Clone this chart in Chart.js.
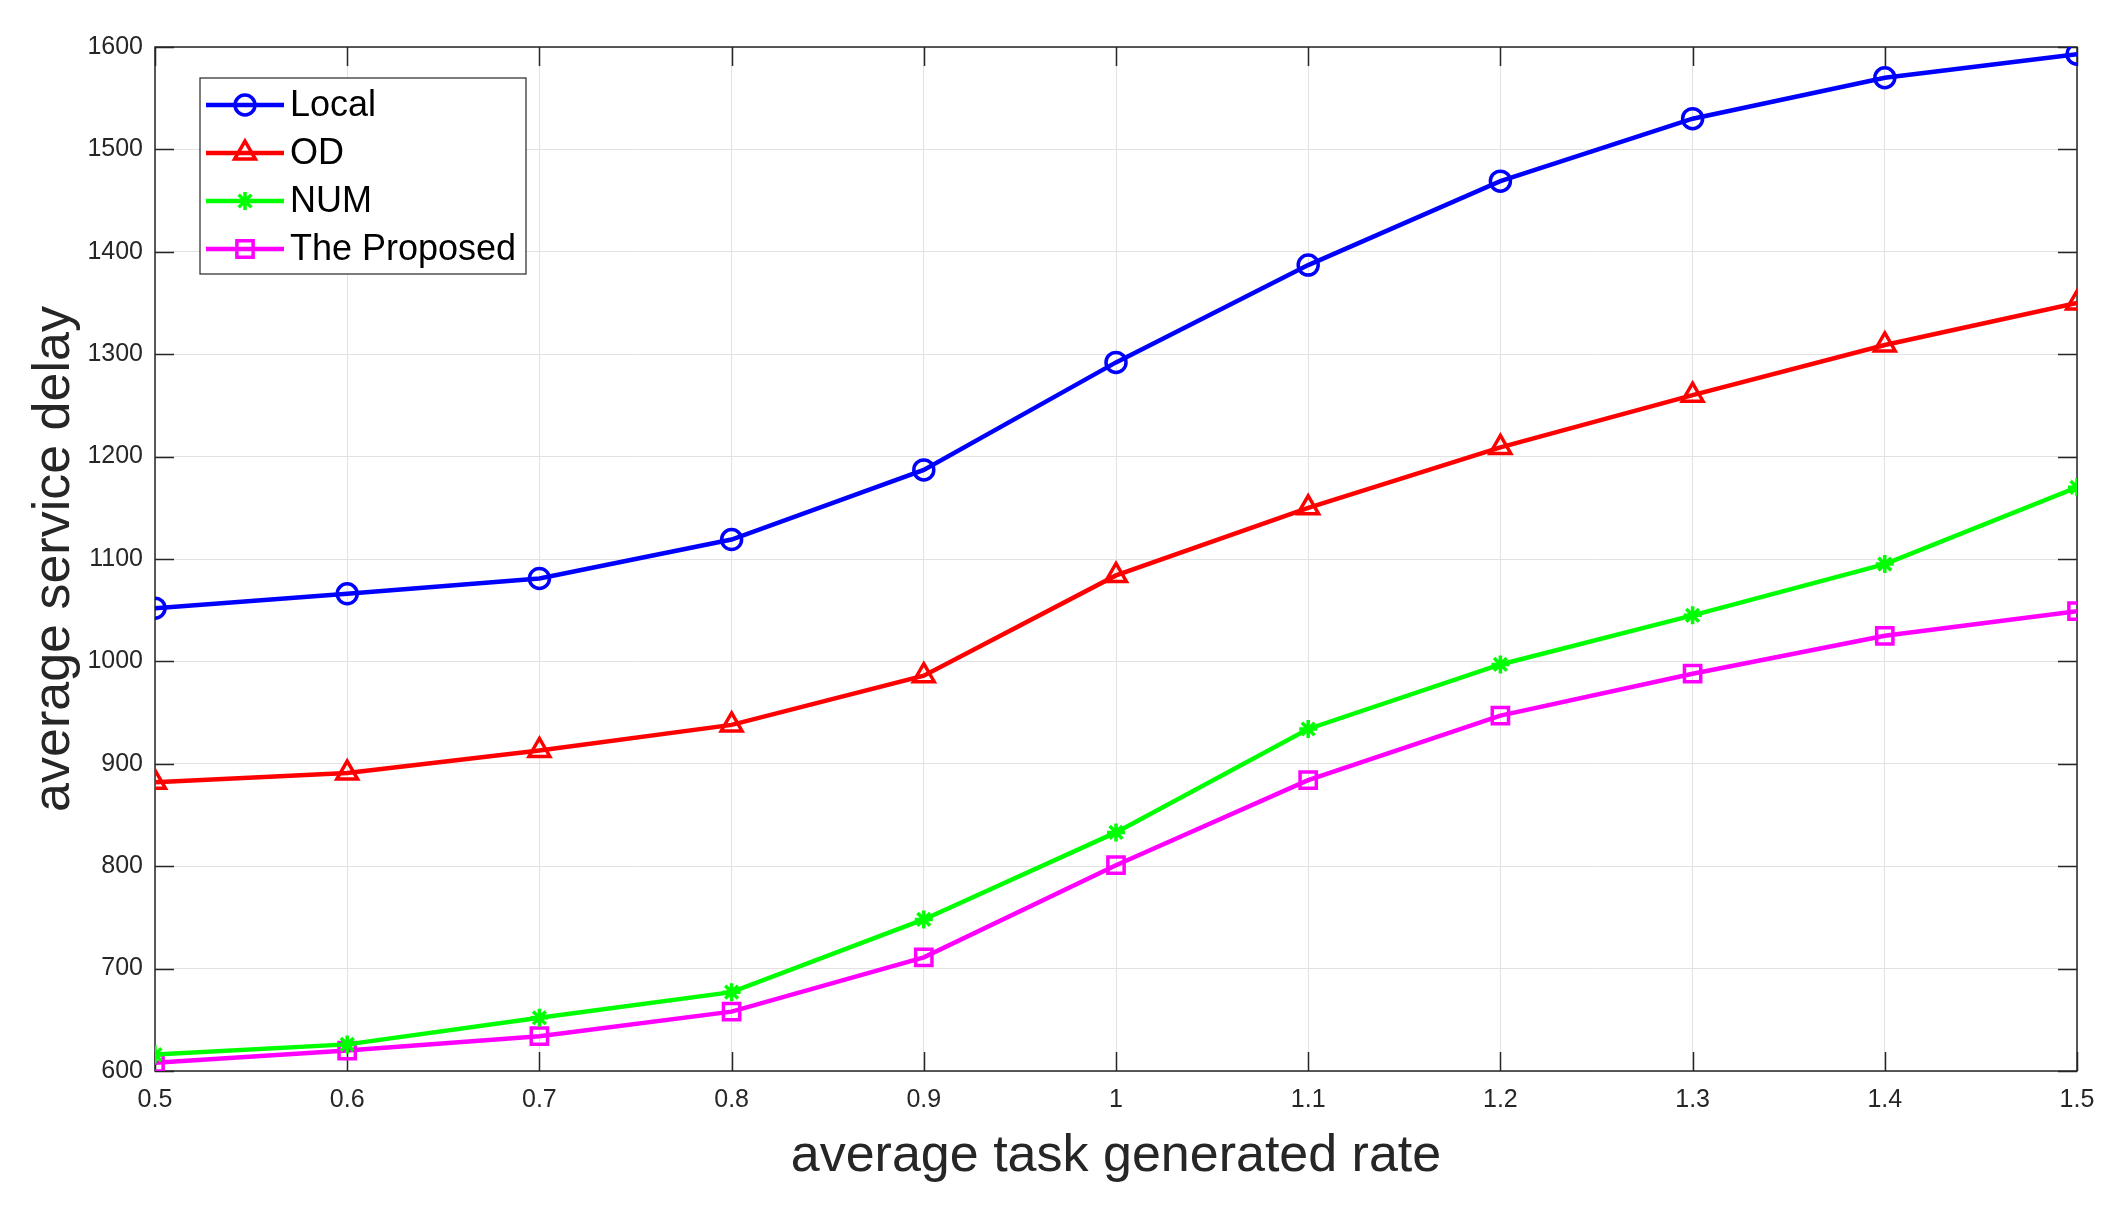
<!DOCTYPE html>
<html>
<head>
<meta charset="utf-8">
<title>average service delay</title>
<script src="https://cdn.jsdelivr.net/npm/chart.js@4/dist/chart.umd.min.js"></script>
<style>
  html, body { margin: 0; padding: 0; background: #fff; }
  #wrap { width: 2126px; height: 1213px; }
</style>
</head>
<body>
<div id="wrap"><canvas id="delayChart" width="2126" height="1213"></canvas></div>
<script>
// values
const rates = [0.5, 0.6, 0.7, 0.8, 0.9, 1.0, 1.1, 1.2, 1.3, 1.4, 1.5];
const localDelay    = [1052, 1066, 1081, 1119, 1187, 1292, 1387, 1469, 1530, 1570, 1593];
const odDelay       = [882, 891, 913, 938, 986, 1084, 1150, 1209, 1260, 1309, 1350];
const numDelay      = [616, 626, 652, 677, 748, 833, 934, 997, 1045, 1095, 1170];
const proposedDelay = [608, 620, 634, 658, 711, 801, 884, 947, 988, 1025, 1049];
const seriesNames = ['Local', 'OD', 'NUM', 'The Proposed'];
const xTicks = [0.5, 0.6, 0.7, 0.8, 0.9, 1.0, 1.1, 1.2, 1.3, 1.4, 1.5];
const yTicks = [600, 700, 800, 900, 1000, 1100, 1200, 1300, 1400, 1500, 1600];

const FONT = '"Liberation Sans", Arial, Helvetica, sans-serif';
const AXIS_COLOR = '#262626';

function toPoints(values) {
    return values.map((v, i) => ({ x: rates[i], y: v }));
}

function makeSet(label, values, color, style, radius) {
    return {
        label: label,
        data: toPoints(values),
        borderColor: color,
        borderWidth: 4.5,
        backgroundColor: color,
        pointStyle: style,
        pointRadius: radius,
        pointBorderWidth: 3.5,
        pointBorderColor: color,
        pointBackgroundColor: 'rgba(0,0,0,0)',
        tension: 0,
        fill: false
    };
}

// box round the axes with inward ticks, like the matlab figure
const axesBox = {
    id: 'axesBox',
    beforeDatasetsDraw(chart) {
        const ctx = chart.ctx;
        const a = chart.chartArea;
        const xs = chart.scales.x, ys = chart.scales.y;
        const tl = 19;
        ctx.save();
        ctx.strokeStyle = AXIS_COLOR;
        ctx.lineWidth = 1.5;
        ctx.beginPath();
        xs.ticks.forEach(t => {
            const px = Math.round(xs.getPixelForValue(t.value)) + 0.5;
            ctx.moveTo(px, a.bottom); ctx.lineTo(px, a.bottom - tl);
            ctx.moveTo(px, a.top); ctx.lineTo(px, a.top + tl);
        });
        ys.ticks.forEach(t => {
            const py = Math.round(ys.getPixelForValue(t.value)) + 0.5;
            ctx.moveTo(a.left, py); ctx.lineTo(a.left + tl, py);
            ctx.moveTo(a.right, py); ctx.lineTo(a.right - tl, py);
        });
        ctx.stroke();
        ctx.strokeRect(a.left, a.top, a.right - a.left, a.bottom - a.top);
        ctx.restore();
    }
};

// legend inside the axes, line sample with marker
const insideLegend = {
    id: 'insideLegend',
    afterDatasetsDraw(chart) {
        const ctx = chart.ctx;
        const a = chart.chartArea;
        const left = a.left + 45, top = a.top + 31;
        const w = 326, h = 196, rowH = 48;
        ctx.save();
        ctx.fillStyle = '#fff';
        ctx.fillRect(left, top, w, h);
        ctx.strokeStyle = AXIS_COLOR;
        ctx.lineWidth = 1.2;
        ctx.strokeRect(left, top, w, h);
        chart.data.datasets.forEach((ds, i) => {
            const cy = top + 27 + i * rowH;
            ctx.strokeStyle = ds.borderColor;
            ctx.lineWidth = 4.5;
            ctx.beginPath();
            ctx.moveTo(left + 6, cy);
            ctx.lineTo(left + 84, cy);
            ctx.stroke();
            ctx.lineWidth = 3.5;
            ctx.fillStyle = 'rgba(0,0,0,0)';
            Chart.helpers.drawPoint(ctx, {
                pointStyle: ds.pointStyle,
                radius: ds.pointRadius,
                rotation: 0,
                borderWidth: 3.5
            }, left + 45, cy);
            ctx.fillStyle = '#000';
            ctx.font = '36px ' + FONT;
            ctx.textBaseline = 'middle';
            ctx.textAlign = 'left';
            ctx.fillText(ds.label, left + 90, cy + 1);
        });
        ctx.restore();
    }
};

const ctx = document.getElementById('delayChart').getContext('2d');
new Chart(ctx, {
    type: 'line',
    data: {
        datasets: [
            makeSet(seriesNames[0], localDelay, '#0000ff', 'circle', 10),
            makeSet(seriesNames[1], odDelay, '#ff0000', 'triangle', 12),
            makeSet(seriesNames[2], numDelay, '#00ff00', 'star', 9),
            makeSet(seriesNames[3], proposedDelay, '#ff00ff', 'rect', 11.5)
        ]
    },
    options: {
        responsive: false,
        devicePixelRatio: 1,
        animation: false,
        layout: { padding: { top: 47, right: 49, left: 0, bottom: 0 } },
        plugins: {
            legend: { display: false },
            tooltip: { enabled: false }
        },
        scales: {
            x: {
                type: 'linear',
                min: 0.5,
                max: 1.5,
                afterBuildTicks: scale => { scale.ticks = xTicks.map(v => ({ value: v })); },
                afterFit: scale => { scale.height = 142; },
                grid: { color: '#e2e2e2', lineWidth: 1, drawTicks: false },
                border: { display: false },
                ticks: {
                    color: AXIS_COLOR,
                    font: { family: FONT, size: 25 },
                    padding: 14,
                    maxRotation: 0,
                    autoSkip: false,
                    callback: v => String(Math.round(v * 10) / 10)
                },
                title: {
                    display: true,
                    text: 'average task generated rate',
                    color: AXIS_COLOR,
                    font: { family: FONT, size: 52 },
                    padding: { top: 0, bottom: 25 }
                }
            },
            y: {
                min: 600,
                max: 1600,
                afterBuildTicks: scale => { scale.ticks = yTicks.map(v => ({ value: v })); },
                afterFit: scale => { scale.width = 155; },
                grid: { color: '#e2e2e2', lineWidth: 1, drawTicks: false },
                border: { display: false },
                ticks: {
                    color: AXIS_COLOR,
                    font: { family: FONT, size: 25 },
                    padding: 12,
                    autoSkip: false,
                    callback: v => String(v)
                },
                title: {
                    display: true,
                    text: 'average service delay',
                    color: AXIS_COLOR,
                    font: { family: FONT, size: 52 },
                    padding: { top: 23, bottom: 0 }
                }
            }
        }
    },
    plugins: [axesBox, insideLegend]
});
</script>
</body>
</html>
